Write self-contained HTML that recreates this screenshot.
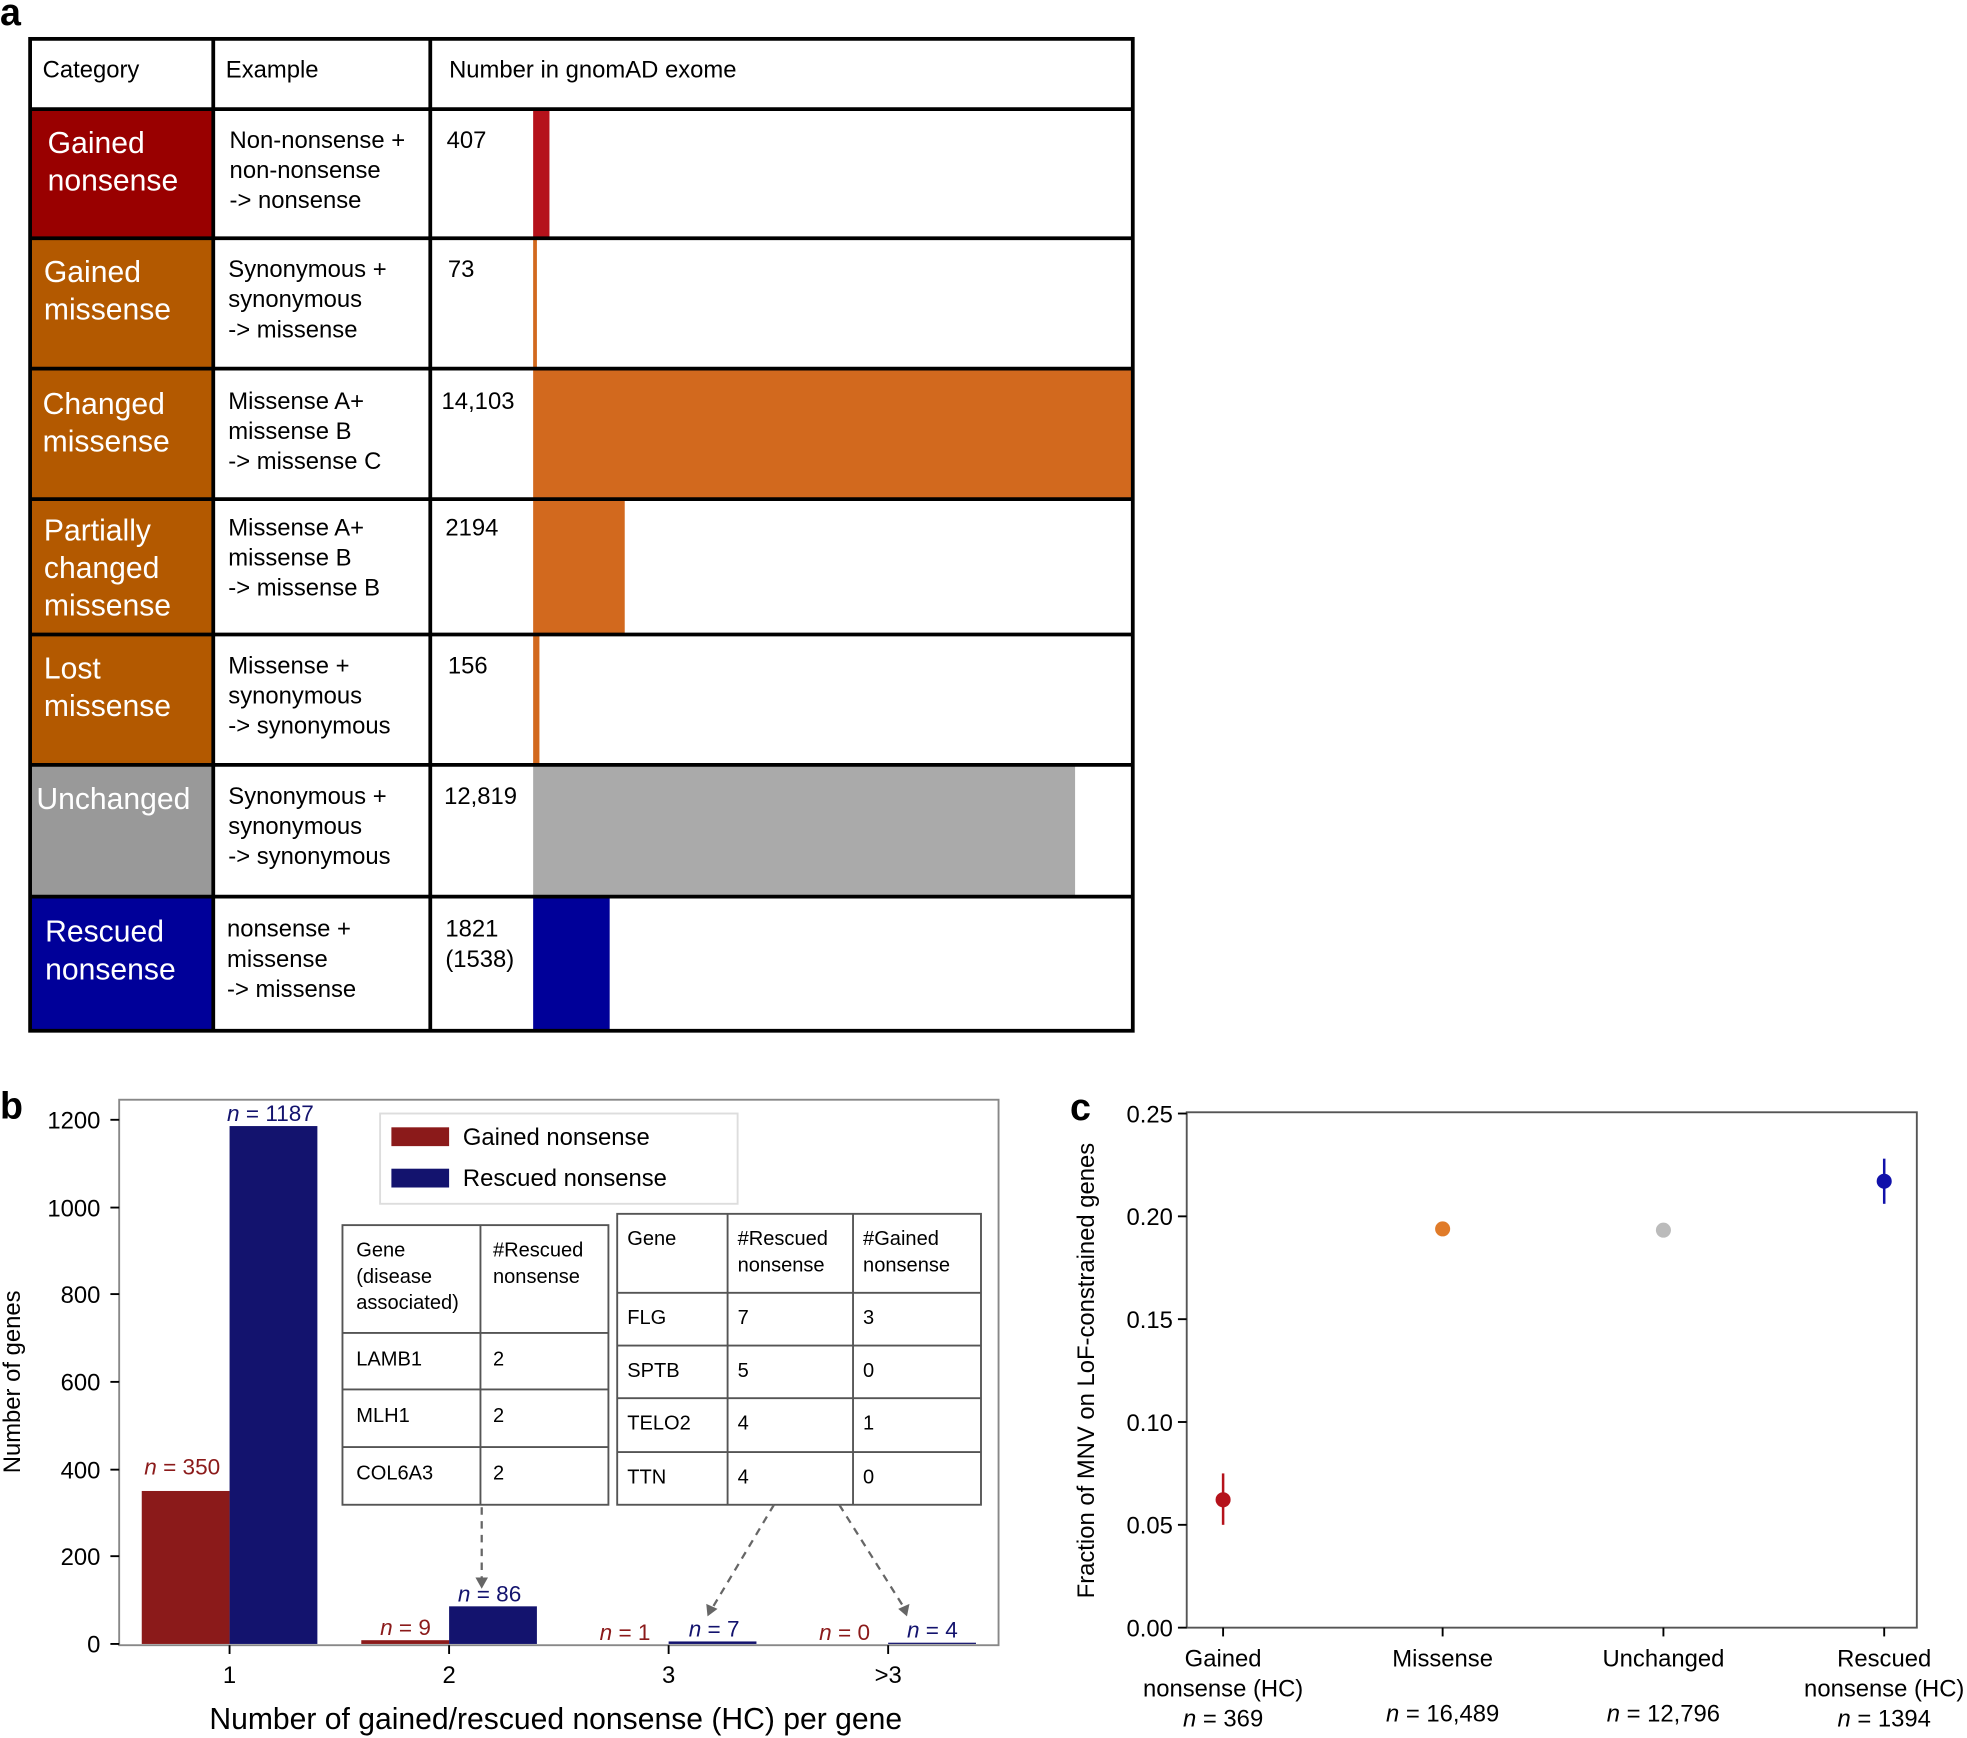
<!DOCTYPE html>
<html><head><meta charset="utf-8"><style>html,body{margin:0;padding:0;background:#fff}svg{display:block}text{font-family:"Liberation Sans",sans-serif}</style></head><body>
<svg width="1967" height="1738" viewBox="0 0 1568 1386" preserveAspectRatio="none" xmlns="http://www.w3.org/2000/svg">
<rect width="1568" height="1386" fill="#fff"/>
<text x="0" y="20" font-size="30" font-weight="bold">a</text>
<!-- panel a category fills -->
<rect x="24" y="87" width="146" height="103" fill="#990000"/>
<rect x="24" y="190" width="146" height="104" fill="#b35900"/>
<rect x="24" y="294" width="146" height="104" fill="#b35900"/>
<rect x="24" y="398" width="146" height="108" fill="#b35900"/>
<rect x="24" y="506" width="146" height="104" fill="#b35900"/>
<rect x="24" y="610" width="146" height="105" fill="#999"/>
<rect x="24" y="715" width="146" height="107" fill="#000099"/>
<!-- bars -->
<rect x="425" y="87" width="13" height="103" fill="#b5121b"/>
<rect x="425" y="190" width="3" height="104" fill="#d2691e"/>
<rect x="425" y="294" width="478" height="104" fill="#d2691e"/>
<rect x="425" y="398" width="73" height="108" fill="#d2691e"/>
<rect x="425" y="506" width="5" height="104" fill="#d2691e"/>
<rect x="425" y="610" width="432" height="105" fill="#aaa"/>
<rect x="425" y="715" width="61" height="107" fill="#000099"/>
<g stroke="#000" stroke-width="3" fill="none">
<rect x="24" y="31" width="879" height="791"/>
<line x1="170" y1="31" x2="170" y2="822"/><line x1="343" y1="31" x2="343" y2="822"/>
<line x1="24" y1="87" x2="903" y2="87"/><line x1="24" y1="190" x2="903" y2="190"/><line x1="24" y1="294" x2="903" y2="294"/><line x1="24" y1="398" x2="903" y2="398"/><line x1="24" y1="506" x2="903" y2="506"/><line x1="24" y1="610" x2="903" y2="610"/><line x1="24" y1="715" x2="903" y2="715"/>
</g>
<g font-size="19">
<text x="34" y="62">Category</text><text x="180" y="62">Example</text><text x="358" y="62">Number in gnomAD exome</text>
</g>
<g font-size="24" fill="#fff">
<text x="38" y="122">Gained</text><text x="38" y="152">nonsense</text>
<text x="35" y="225">Gained</text><text x="35" y="255">missense</text>
<text x="34" y="330">Changed</text><text x="34" y="360">missense</text>
<text x="35" y="431">Partially</text><text x="35" y="461">changed</text><text x="35" y="491">missense</text>
<text x="35" y="541">Lost</text><text x="35" y="571">missense</text>
<text x="29" y="645">Unchanged</text>
<text x="36" y="751">Rescued</text><text x="36" y="781">nonsense</text>
</g>
<g font-size="19">
<text x="183" y="118">Non-nonsense +</text><text x="183" y="142">non-nonsense</text><text x="183" y="166">-&gt; nonsense</text>
<text x="182" y="221">Synonymous +</text><text x="182" y="245">synonymous</text><text x="182" y="269">-&gt; missense</text>
<text x="182" y="326">Missense A+</text><text x="182" y="350">missense B</text><text x="182" y="374">-&gt; missense C</text>
<text x="182" y="427">Missense A+</text><text x="182" y="451">missense B</text><text x="182" y="475">-&gt; missense B</text>
<text x="182" y="537">Missense +</text><text x="182" y="561">synonymous</text><text x="182" y="585">-&gt; synonymous</text>
<text x="182" y="641">Synonymous +</text><text x="182" y="665">synonymous</text><text x="182" y="689">-&gt; synonymous</text>
<text x="181" y="747">nonsense +</text><text x="181" y="771">missense</text><text x="181" y="795">-&gt; missense</text>
<text x="356" y="118">407</text><text x="357" y="221">73</text><text x="352" y="326">14,103</text><text x="355" y="427">2194</text><text x="357" y="537">156</text><text x="354" y="641">12,819</text><text x="355" y="747">1821</text><text x="355" y="771">(1538)</text>
</g>
<!-- panel b -->
<text x="0" y="892" font-size="30" font-weight="bold">b</text>
<rect x="113" y="1189" width="70" height="122" fill="#8b1a1a"/>
<rect x="183" y="898" width="70" height="413" fill="#13136e"/>
<rect x="288" y="1308" width="70" height="3" fill="#8b1a1a"/>
<rect x="358" y="1281" width="70" height="30" fill="#13136e"/>
<rect x="533" y="1309" width="70" height="2" fill="#13136e"/>
<rect x="708" y="1310" width="70" height="1" fill="#13136e"/>
<rect x="95" y="877" width="701" height="435" fill="none" stroke="#888" stroke-width="1.5"/>
<g stroke="#000" stroke-width="1.5">
<line x1="88" y1="893" x2="95" y2="893"/><line x1="88" y1="963" x2="95" y2="963"/><line x1="88" y1="1032" x2="95" y2="1032"/><line x1="88" y1="1102" x2="95" y2="1102"/><line x1="88" y1="1172" x2="95" y2="1172"/><line x1="88" y1="1241" x2="95" y2="1241"/><line x1="88" y1="1311" x2="95" y2="1311"/>
<line x1="183" y1="1312" x2="183" y2="1319"/><line x1="358" y1="1312" x2="358" y2="1319"/><line x1="533" y1="1312" x2="533" y2="1319"/><line x1="708" y1="1312" x2="708" y2="1319"/>
</g>
<g font-size="19" text-anchor="end">
<text x="80" y="900">1200</text><text x="80" y="970">1000</text><text x="80" y="1039">800</text><text x="80" y="1109">600</text><text x="80" y="1179">400</text><text x="80" y="1248">200</text><text x="80" y="1318">0</text>
</g>
<g font-size="19" text-anchor="middle">
<text x="183" y="1342">1</text><text x="358" y="1342">2</text><text x="533" y="1342">3</text><text x="708" y="1342">&gt;3</text>
</g>
<text x="443" y="1379" font-size="24" text-anchor="middle">Number of gained/rescued nonsense (HC) per gene</text>
<text transform="translate(16,1102) rotate(-90)" font-size="19" text-anchor="middle">Number of genes</text>
<g font-size="18">
<text x="181" y="894" fill="#13136e"><tspan font-style="italic">n</tspan> = 1187</text>
<text x="115" y="1176" fill="#8b1a1a"><tspan font-style="italic">n</tspan> = 350</text>
<text x="303" y="1304" fill="#8b1a1a"><tspan font-style="italic">n</tspan> = 9</text>
<text x="365" y="1277" fill="#13136e"><tspan font-style="italic">n</tspan> = 86</text>
<text x="478" y="1308" fill="#8b1a1a"><tspan font-style="italic">n</tspan> = 1</text>
<text x="549" y="1305" fill="#13136e"><tspan font-style="italic">n</tspan> = 7</text>
<text x="653" y="1308" fill="#8b1a1a"><tspan font-style="italic">n</tspan> = 0</text>
<text x="723" y="1306" fill="#13136e"><tspan font-style="italic">n</tspan> = 4</text>
</g>
<rect x="303" y="888" width="285" height="72" fill="#fff" stroke="#ddd" stroke-width="1.5"/>
<rect x="312" y="899" width="46" height="15" fill="#8b1a1a"/>
<rect x="312" y="932" width="46" height="15" fill="#13136e"/>
<text x="369" y="913" font-size="19">Gained nonsense</text>
<text x="369" y="946" font-size="19">Rescued nonsense</text>
<g stroke="#555" stroke-width="1.5" fill="#fff">
<rect x="273" y="977" width="212" height="223"/>
<line x1="383" y1="977" x2="383" y2="1200"/><line x1="273" y1="1063" x2="485" y2="1063"/><line x1="273" y1="1108" x2="485" y2="1108"/><line x1="273" y1="1154" x2="485" y2="1154"/>
<rect x="492" y="968" width="290" height="232"/>
<line x1="580" y1="968" x2="580" y2="1200"/><line x1="680" y1="968" x2="680" y2="1200"/><line x1="492" y1="1031" x2="782" y2="1031"/><line x1="492" y1="1073" x2="782" y2="1073"/><line x1="492" y1="1115" x2="782" y2="1115"/><line x1="492" y1="1158" x2="782" y2="1158"/>
</g>
<g font-size="16">
<text x="284" y="1002">Gene</text><text x="284" y="1023">(disease</text><text x="284" y="1044">associated)</text>
<text x="393" y="1002">#Rescued</text><text x="393" y="1023">nonsense</text>
<text x="284" y="1089">LAMB1</text><text x="393" y="1089">2</text>
<text x="284" y="1134">MLH1</text><text x="393" y="1134">2</text>
<text x="284" y="1180">COL6A3</text><text x="393" y="1180">2</text>
<text x="500" y="993">Gene</text><text x="588" y="993">#Rescued</text><text x="588" y="1014">nonsense</text><text x="688" y="993">#Gained</text><text x="688" y="1014">nonsense</text>
<text x="500" y="1056">FLG</text><text x="588" y="1056">7</text><text x="688" y="1056">3</text>
<text x="500" y="1098">SPTB</text><text x="588" y="1098">5</text><text x="688" y="1098">0</text>
<text x="500" y="1140">TELO2</text><text x="588" y="1140">4</text><text x="688" y="1140">1</text>
<text x="500" y="1183">TTN</text><text x="588" y="1183">4</text><text x="688" y="1183">0</text>
</g>
<g stroke="#666" stroke-width="1.8" stroke-dasharray="6,5" fill="none">
<line x1="384" y1="1202" x2="384" y2="1260"/><line x1="617" y1="1200" x2="568" y2="1282"/><line x1="669" y1="1200" x2="720" y2="1281"/>
</g>
<g fill="#666">
<polygon points="379,1258 389,1258 384,1267"/><polygon points="563,1279 572,1283 564,1289"/><polygon points="716,1283 725,1279 723,1289"/>
</g>
<!-- panel c -->
<text x="853" y="893" font-size="30" font-weight="bold">c</text>
<rect x="946" y="887" width="582" height="411" fill="none" stroke="#555" stroke-width="1.5"/>
<g stroke="#000" stroke-width="1.5">
<line x1="939" y1="888" x2="946" y2="888"/><line x1="939" y1="970" x2="946" y2="970"/><line x1="939" y1="1052" x2="946" y2="1052"/><line x1="939" y1="1134" x2="946" y2="1134"/><line x1="939" y1="1216" x2="946" y2="1216"/><line x1="939" y1="1298" x2="946" y2="1298"/>
<line x1="975" y1="1298" x2="975" y2="1305"/><line x1="1150" y1="1298" x2="1150" y2="1305"/><line x1="1326" y1="1298" x2="1326" y2="1305"/><line x1="1502" y1="1298" x2="1502" y2="1305"/>
</g>
<g font-size="19" text-anchor="end">
<text x="935" y="895">0.25</text><text x="935" y="977">0.20</text><text x="935" y="1059">0.15</text><text x="935" y="1141">0.10</text><text x="935" y="1223">0.05</text><text x="935" y="1305">0.00</text>
</g>
<text transform="translate(872,1093) rotate(-90)" font-size="19" text-anchor="middle">Fraction of MNV on LoF-constrained genes</text>
<line x1="975" y1="1175" x2="975" y2="1216" stroke="#b5121b" stroke-width="2"/>
<circle cx="975" cy="1196" r="6" fill="#b5121b"/>
<circle cx="1150" cy="980" r="6" fill="#e07b29"/>
<circle cx="1326" cy="981" r="6" fill="#bbb"/>
<line x1="1502" y1="924" x2="1502" y2="960" stroke="#1111aa" stroke-width="2"/>
<circle cx="1502" cy="942" r="6" fill="#1111aa"/>
<g font-size="19" text-anchor="middle">
<text x="975" y="1329">Gained</text><text x="975" y="1353">nonsense (HC)</text><text x="975" y="1377"><tspan font-style="italic">n</tspan> = 369</text>
<text x="1150" y="1329">Missense</text><text x="1150" y="1373"><tspan font-style="italic">n</tspan> = 16,489</text>
<text x="1326" y="1329">Unchanged</text><text x="1326" y="1373"><tspan font-style="italic">n</tspan> = 12,796</text>
<text x="1502" y="1329">Rescued</text><text x="1502" y="1353">nonsense (HC)</text><text x="1502" y="1377"><tspan font-style="italic">n</tspan> = 1394</text>
</g>
</svg>
</body></html>
